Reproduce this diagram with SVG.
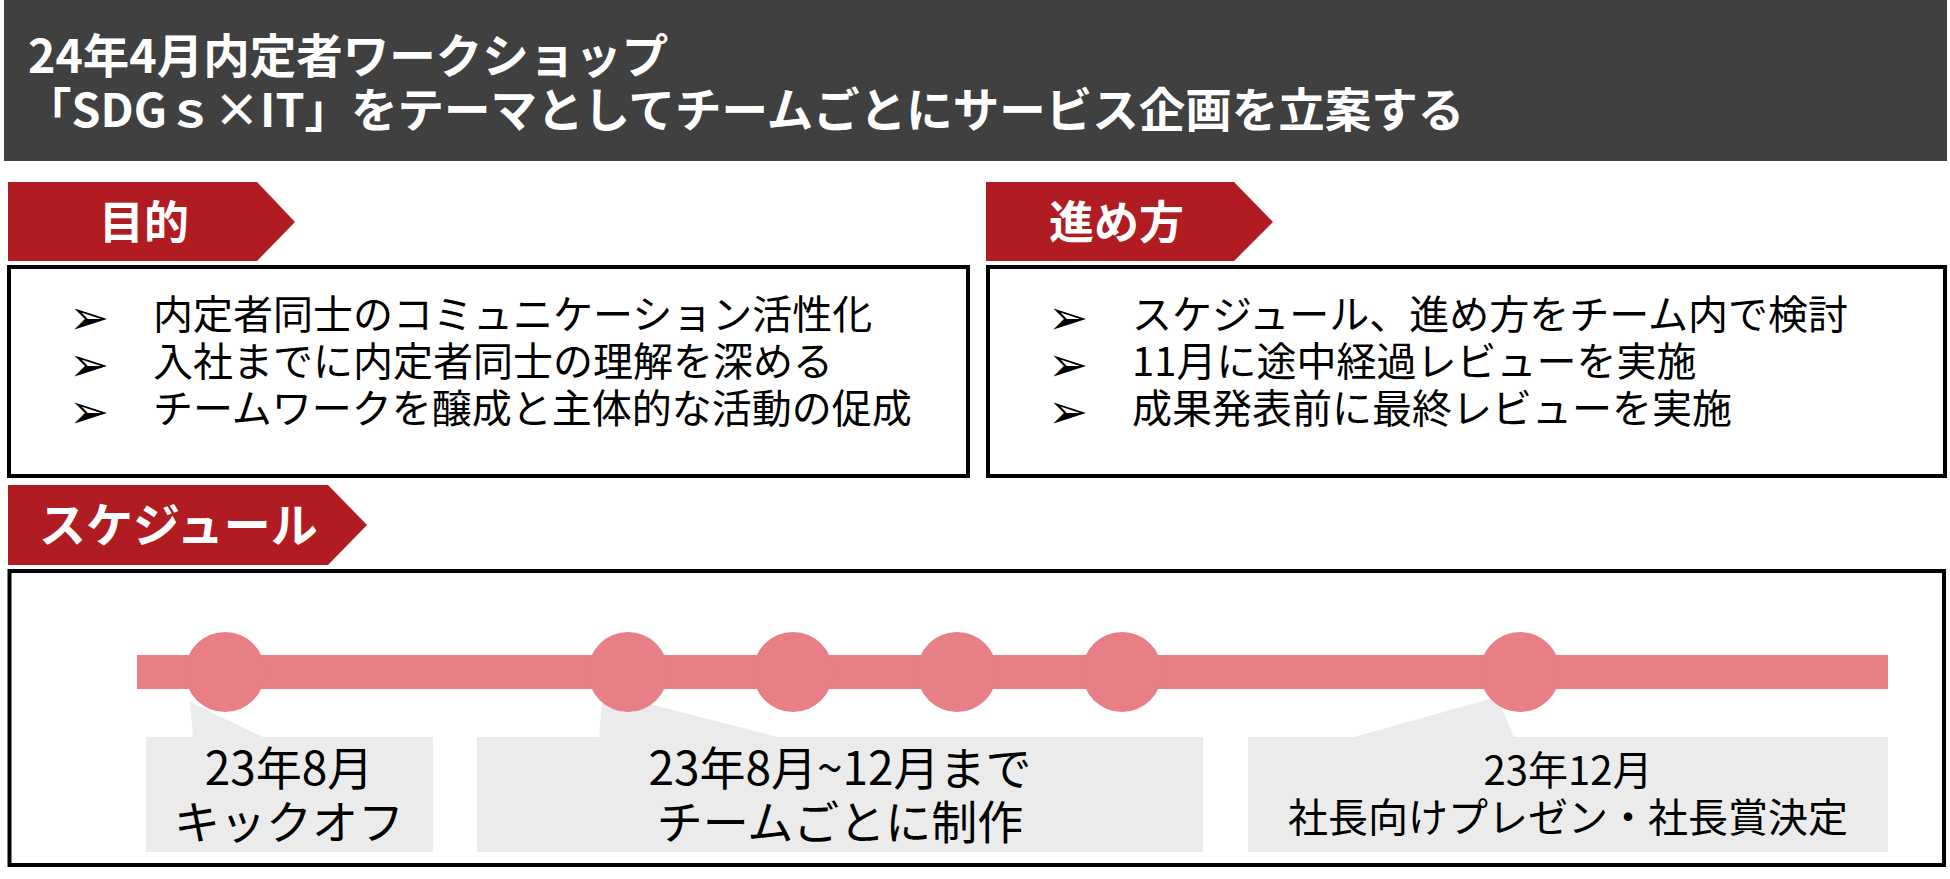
<svg xmlns="http://www.w3.org/2000/svg" width="1950" height="879" viewBox="0 0 1950 879">
<style>
  .title{font-family:"Noto Sans CJK JP","Noto Sans",sans-serif;font-weight:700;font-size:46.5px;fill:#ffffff}
  .tab{fill:#b01c22}
  .tabtxt{font-family:"Noto Sans CJK JP","Noto Sans",sans-serif;font-weight:700;font-size:45px;fill:#ffffff}
  .box{fill:#ffffff;stroke:#000000;stroke-width:4}
  .body{font-family:"Noto Sans CJK JP","Noto Sans",sans-serif;font-size:40px;fill:#000000}
  .bullet{font-family:"DejaVu Sans",sans-serif;font-size:48px;fill:#000000}
  .bar{fill:#e87f86}
  .call{fill:#ebebeb}
  .ctxt{font-family:"Noto Sans CJK JP","Noto Sans",sans-serif;font-size:46px;fill:#000000;text-anchor:middle}
  .ctxt2{font-family:"Noto Sans CJK JP","Noto Sans",sans-serif;font-size:40px;fill:#000000;text-anchor:middle}
</style>
<rect width="1950" height="879" fill="#ffffff"/>
<g id="header">
  <rect x="4" y="0" width="1943" height="161" fill="#404040"/>
  <text class="title" x="28" y="73">24年4月内定者ワークショップ</text>
  <text class="title" x="25" y="127">「SDGｓ×IT」をテーマとしてチームごとにサービス企画を立案する</text>
</g>
<g id="purpose">
  <polygon class="tab" points="8,182 257,182 295,222 257,261 8,261"/>
  <text class="tabtxt" x="99" y="239">目的</text>
  <rect class="box" x="9" y="267" width="959" height="209"/>
  <text class="bullet" x="69" y="334">➢</text>
  <text class="bullet" x="69" y="381">➢</text>
  <text class="bullet" x="69" y="428">➢</text>
  <text class="body" x="153" y="329">内定者同士のコミュニケーション活性化</text>
  <text class="body" x="153" y="376">入社までに内定者同士の理解を深める</text>
  <text class="body" x="153" y="423">チームワークを醸成と主体的な活動の促成</text>
</g>
<g id="method">
  <polygon class="tab" points="986,182 1234,182 1273,222 1234,261 986,261"/>
  <text class="tabtxt" x="1049" y="239">進め方</text>
  <rect class="box" x="988" y="267" width="957" height="209"/>
  <text class="bullet" x="1048" y="334">➢</text>
  <text class="bullet" x="1048" y="381">➢</text>
  <text class="bullet" x="1048" y="428">➢</text>
  <text class="body" x="1132" y="329">スケジュール、進め方をチーム内で検討</text>
  <text class="body" x="1132" y="376">11月に途中経過レビューを実施</text>
  <text class="body" x="1132" y="423">成果発表前に最終レビューを実施</text>
</g>
<g id="schedule">
  <polygon class="tab" points="8,485 328,485 367,525 328,565 8,565"/>
  <text class="tabtxt" x="39" y="542" style="font-size:47px">スケジュール</text>
  <rect class="box" x="9.5" y="571" width="1934.5" height="294"/>
</g>
<g id="callouts">
  <polygon class="call" points="190,702 193,737 263,737"/>
  <rect class="call" x="146" y="737" width="287" height="115"/>
  <polygon class="call" points="603,692 599,737 778,737"/>
  <rect class="call" x="477" y="737" width="726" height="115"/>
  <polygon class="call" points="1497,697 1354,737 1514,737"/>
  <rect class="call" x="1248" y="737" width="640" height="115"/>
</g>
<g id="timeline">
  <rect class="bar" x="137" y="655" width="1751" height="34"/>
  <circle class="bar" cx="225" cy="672" r="40"/>
  <circle class="bar" cx="628" cy="672" r="40"/>
  <circle class="bar" cx="793" cy="672" r="40"/>
  <circle class="bar" cx="957" cy="672" r="40"/>
  <circle class="bar" cx="1122" cy="672" r="40"/>
  <circle class="bar" cx="1520" cy="672" r="40"/>
</g>
<g id="labels">
  <text class="ctxt" x="289" y="785">23年8月</text>
  <text class="ctxt" x="289" y="839">キックオフ</text>
  <text class="ctxt" x="840" y="785">23年8月~12月まで</text>
  <text class="ctxt" x="840" y="839">チームごとに制作</text>
  <text class="ctxt2" x="1568" y="785">23年12月</text>
  <text class="ctxt2" x="1568" y="832">社長向けプレゼン・社長賞決定</text>
</g>
</svg>
